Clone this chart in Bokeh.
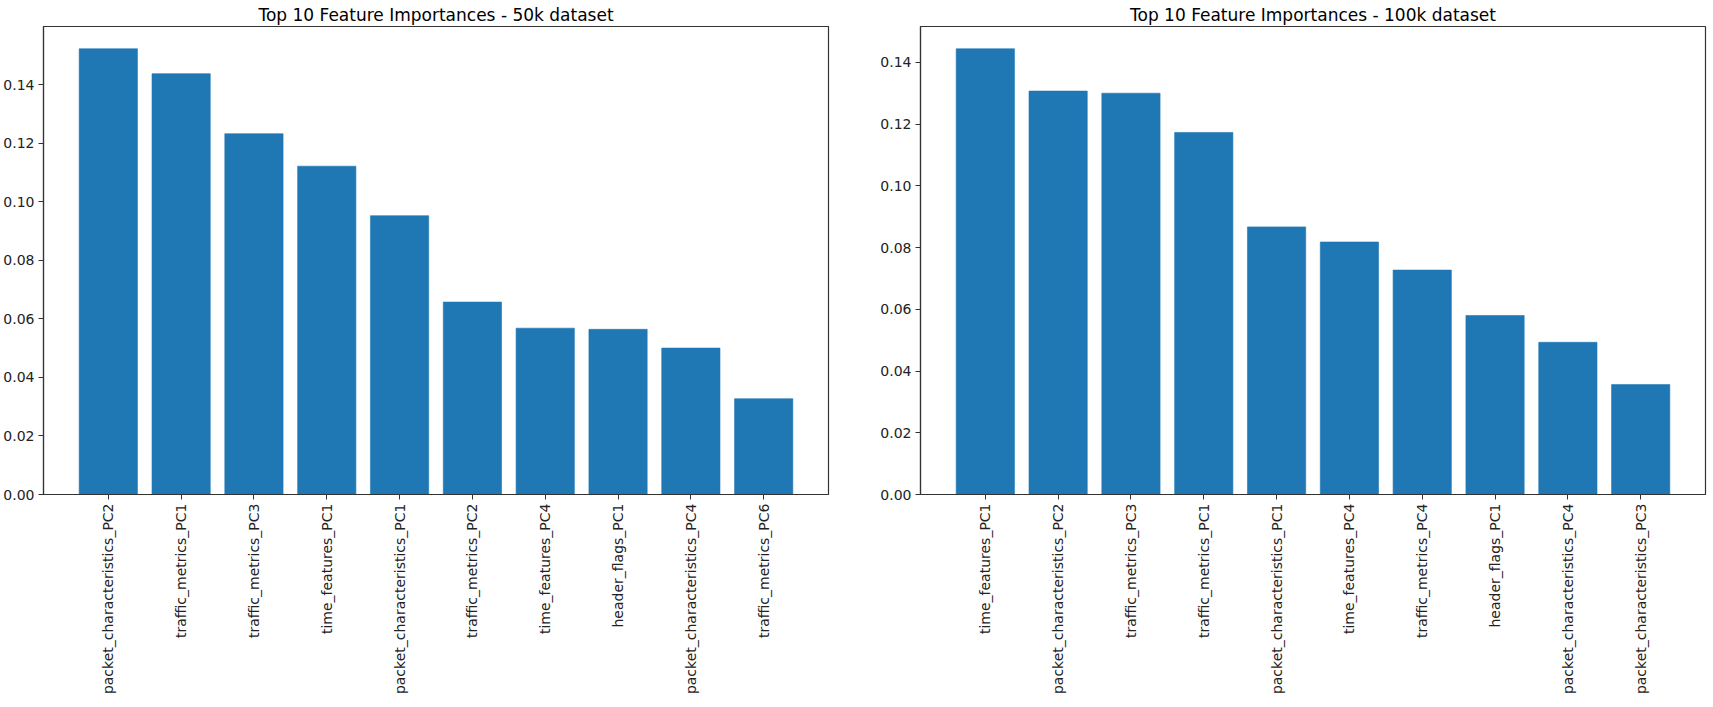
import math
from bokeh.plotting import figure
from bokeh.layouts import row
from bokeh.models import FactorRange, Range1d, SingleIntervalTicker, NumeralTickFormatter
from bokeh.embed import file_html
from bokeh.resources import INLINE

features_50k = ["packet_characteristics_PC2", "traffic_metrics_PC1", "traffic_metrics_PC3",
                "time_features_PC1", "packet_characteristics_PC1", "traffic_metrics_PC2",
                "time_features_PC4", "header_flags_PC1", "packet_characteristics_PC4",
                "traffic_metrics_PC6"]
importances_50k = [0.1522, 0.1437, 0.1232, 0.1121, 0.0952, 0.0657, 0.0568, 0.0564, 0.0500, 0.0327]

features_100k = ["time_features_PC1", "packet_characteristics_PC2", "traffic_metrics_PC3",
                 "traffic_metrics_PC1", "packet_characteristics_PC1", "time_features_PC4",
                 "traffic_metrics_PC4", "header_flags_PC1", "packet_characteristics_PC4",
                 "packet_characteristics_PC3"]
importances_100k = [0.1444, 0.1307, 0.1300, 0.1173, 0.0867, 0.0818, 0.0727, 0.0580, 0.0493, 0.0356]

BAR = "#1f77b4"
FONT = "DejaVu Sans"


def make_panel(title, cats, vals, left_border, right_border):
    p = figure(x_range=FactorRange(*cats, range_padding=0.078, range_padding_units="percent"),
               y_range=Range1d(0, max(vals) * 1.05),
               frame_width=785, frame_height=468,
               output_backend="svg", toolbar_location=None, title=title,
               min_border_left=left_border, min_border_right=right_border,
               min_border_top=0, min_border_bottom=0)
    p.vbar(x=cats, top=vals, width=0.8, fill_color=BAR, line_color=BAR, line_alpha=0.6)
    p.title.align = "center"
    p.title.text_font = FONT
    p.title.text_font_style = "normal"
    p.title.text_font_size = "17px"
    p.title.text_color = "black"
    p.title.standoff = 4
    p.xgrid.visible = False
    p.ygrid.visible = False
    p.outline_line_color = "#333333"
    p.outline_line_width = 1.2
    p.outline_line_alpha = 1
    for ax in (p.xaxis[0], p.yaxis[0]):
        ax.axis_line_color = "#333333"
        ax.axis_line_width = 1.2
        ax.major_tick_line_color = "#333333"
        ax.major_tick_out = 5
        ax.major_tick_in = 0
        ax.minor_tick_line_color = None
        ax.major_label_text_font = FONT
        ax.major_label_text_font_size = "14px"
        ax.major_label_text_color = "#222222"
        ax.major_label_standoff = 4
    p.yaxis.ticker = SingleIntervalTicker(interval=0.02)
    p.yaxis.formatter = NumeralTickFormatter(format="0.00")
    p.xaxis.major_label_orientation = math.pi / 2
    p.xaxis.group_text_font_size = "0px"
    return p


p1 = make_panel("Top 10 Feature Importances - 50k dataset", features_50k, importances_50k, 36, 46)
p2 = make_panel("Top 10 Feature Importances - 100k dataset", features_100k, importances_100k, 46, 2)

layout = row(p1, p2)
open("out.html", "w").write(file_html(layout, INLINE))
